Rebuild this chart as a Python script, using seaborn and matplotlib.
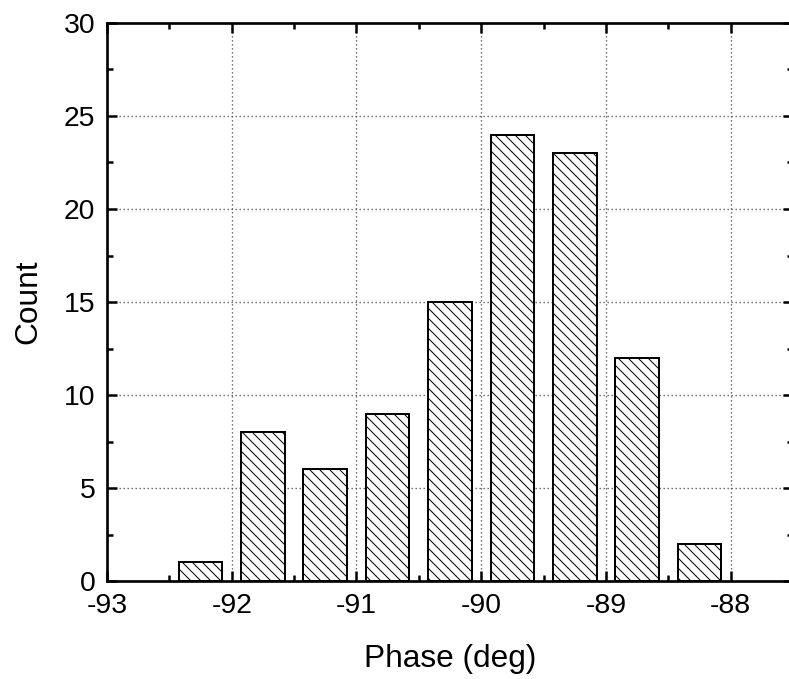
import numpy as np
import matplotlib
matplotlib.use("Agg")
import matplotlib.pyplot as plt
import seaborn as sns
from matplotlib.ticker import MultipleLocator

# bin centres (deg) and counts
phase_centers = [-92.25, -91.75, -91.25, -90.75, -90.25, -89.75, -89.25, -88.75, -88.25]
counts = [1, 8, 6, 9, 15, 24, 23, 12, 2]
x_ticks = [-93, -92, -91, -90, -89, -88]
y_ticks = [0, 5, 10, 15, 20, 25, 30]

sns.set_style("ticks")
plt.rcParams["font.family"] = ["Liberation Sans", "DejaVu Sans"]
plt.rcParams["hatch.linewidth"] = 0.6
plt.rcParams["hatch.color"] = "black"
plt.rcParams["text.color"] = "black"
plt.rcParams["axes.labelcolor"] = "black"
plt.rcParams["xtick.color"] = "black"
plt.rcParams["ytick.color"] = "black"

dpi = 120
fig = plt.figure(figsize=(789 / dpi, 679 / dpi), dpi=dpi)
# right spine sits just outside the picture, as in the reference
ax = fig.add_axes([107 / 789, 1 - 581 / 679, (793 - 107) / 789, (581 - 23) / 679])

sns.barplot(x=phase_centers, y=counts, native_scale=True, width=0.7,
            color="white", saturation=1, edgecolor="black", linewidth=1.2,
            hatch="\\\\\\\\", ax=ax, zorder=3)

ax.set_xlim(-93, -87.5)
ax.set_ylim(0, 30)
ax.set_xticks(x_ticks)
ax.set_xticklabels([str(t) for t in x_ticks])
ax.set_yticks(y_ticks)
ax.xaxis.set_minor_locator(MultipleLocator(0.5))
ax.yaxis.set_minor_locator(MultipleLocator(2.5))

ax.grid(True, which="major", linestyle=(0, (1, 2)), color="#555555", linewidth=0.8)
ax.set_axisbelow(False)

ax.tick_params(which="both", direction="in", top=True, right=True, width=1.5)
ax.tick_params(which="major", length=6, labelsize=17, pad=7)
ax.tick_params(which="minor", length=3.5)
for s in ax.spines.values():
    s.set_linewidth(1.6)
    s.set_color("black")
    s.set_zorder(5)

ax.set_xlabel("Phase (deg)", fontsize=19, labelpad=15)
ax.set_ylabel("Count", fontsize=19, labelpad=12)

fig.savefig("out.png", dpi=dpi)
